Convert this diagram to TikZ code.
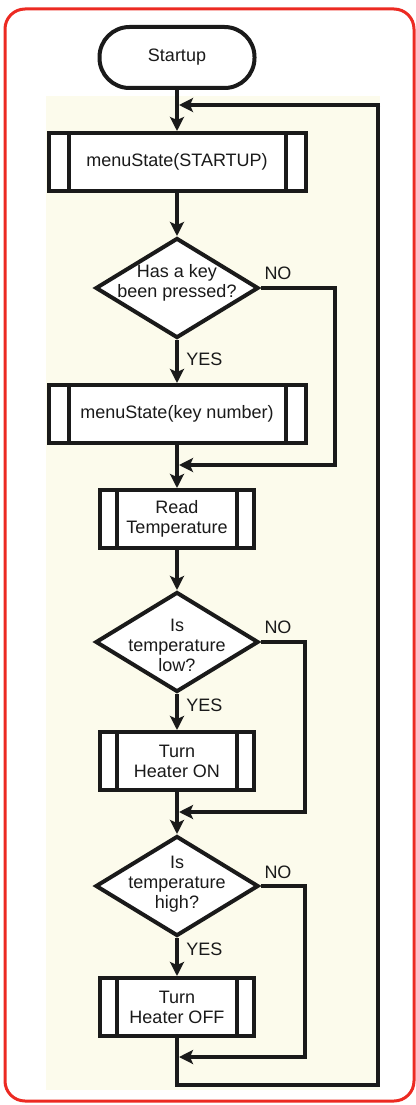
\documentclass[tikz,border=0pt]{standalone}
\usepackage{fontspec}
\setmainfont{Liberation Sans}
\usetikzlibrary{shapes.geometric,arrows.meta,calc}
\definecolor{frame}{HTML}{EC2A22}
\definecolor{cream}{HTML}{FCFBEC}
\definecolor{ink}{HTML}{1A1A1A}
\tikzset{
  lw/.style={line width=4pt},
  terminal/.style={draw=ink,lw,rectangle,rounded corners=30pt,minimum width=155pt,minimum height=61pt,inner sep=0pt,fill=white,font=\fontsize{18}{20}\selectfont,text=ink},
  subbox/.style={draw=ink,lw,rectangle,minimum width=#1,minimum height=58pt,inner sep=0pt,fill=white,align=center,font=\fontsize{18}{20}\selectfont,text=ink},
  bars/.style={path picture={
      \draw[ink,line width=4pt] ([xshift=#1]path picture bounding box.north west) -- ([xshift=#1]path picture bounding box.south west);
      \draw[ink,line width=4pt] ([xshift=-#1]path picture bounding box.north east) -- ([xshift=-#1]path picture bounding box.south east);}},
  decision/.style={draw=ink,lw,diamond,minimum width=163pt,minimum height=100pt,inner sep=0pt,fill=white},
  dtext/.style={align=center,font=\fontsize{18}{20}\selectfont,text=ink},
  lbl/.style={font=\fontsize{18}{20}\selectfont,text=ink},
  flow/.style={ink,lw,-{Stealth[length=14pt,width=14pt,inset=3pt]}},
  wire/.style={ink,lw},
}
\begin{document}
\begin{tikzpicture}[x=1pt,y=-1pt]
\useasboundingbox (0,0) rectangle (415,1105);
\fill[cream] (46,96) rectangle (380,1090);
\draw[frame,line width=3pt,rounded corners=20pt] (5,9) rectangle (414,1101);

\node[terminal] (start) at (177,57.5) {Startup};
\node[subbox=257pt,bars=20pt] (m1) at (177,162) {menuState(STARTUP)};
\node[decision] (d1) at (177,288) {};
\node[dtext] (t1) at (177,283) {Has a key\\been pressed?};
\node[subbox=257pt,bars=20pt] (m2) at (177,414) {menuState(key number)};
\node[subbox=154pt,bars=17pt] (rt) at (177,519) {Read\\Temperature};
\node[decision] (d2) at (177,642) {};
\node[dtext] (t2) at (177,645) {Is\\temperature\\low?};
\node[subbox=154pt,bars=17pt] (on) at (177,761) {Turn\\Heater ON};
\node[decision] (d3) at (177,886) {};
\node[dtext] (t3) at (177,884) {Is\\temperature\\high?};
\node[subbox=154pt,bars=17pt] (off) at (177,1007) {Turn\\Heater OFF};

\coordinate (j0) at (177,105);
\coordinate (j1) at (177,465);
\coordinate (j2) at (177,812);
\coordinate (j3) at (177,1057);
\coordinate (bot) at (177,1085);

\draw[flow] (start.south) -- (m1.north);
\draw[flow] (m1.south) -- (d1.north);
\draw[flow] (d1.south) -- node[lbl,right=4pt,pos=0.45] (y1) {YES} (m2.north);
\draw[flow] (m2.south) -- (rt.north);
\draw[flow] (rt.south) -- (d2.north);
\draw[flow] (d2.south) -- node[lbl,right=4pt,pos=0.3] (y2) {YES} (on.north);
\draw[flow] (on.south) -- (d3.north);
\draw[flow] (d3.south) -- node[lbl,right=4pt,pos=0.3] (y3) {YES} (off.north);

\node[lbl] (n1) at (278,273) {NO};
\node[lbl] (n2) at (278,627) {NO};
\node[lbl] (n3) at (278,872) {NO};

\draw[flow] (d1.east) -- (335,288) -- (335,465) -- ([xshift=2pt]j1);
\draw[flow] (d2.east) -- (305,642) -- (305,812) -- ([xshift=2pt]j2);
\draw[flow] (d3.east) -- (305,886) -- (305,1057) -- ([xshift=2pt]j3);
\draw[wire] (off.south) -- (bot) -- (378,1085) -- (378,105) coordinate (rtop);
\draw[flow] ([xshift=2pt]rtop) -- ([xshift=2pt]j0);
\end{tikzpicture}
\end{document}
